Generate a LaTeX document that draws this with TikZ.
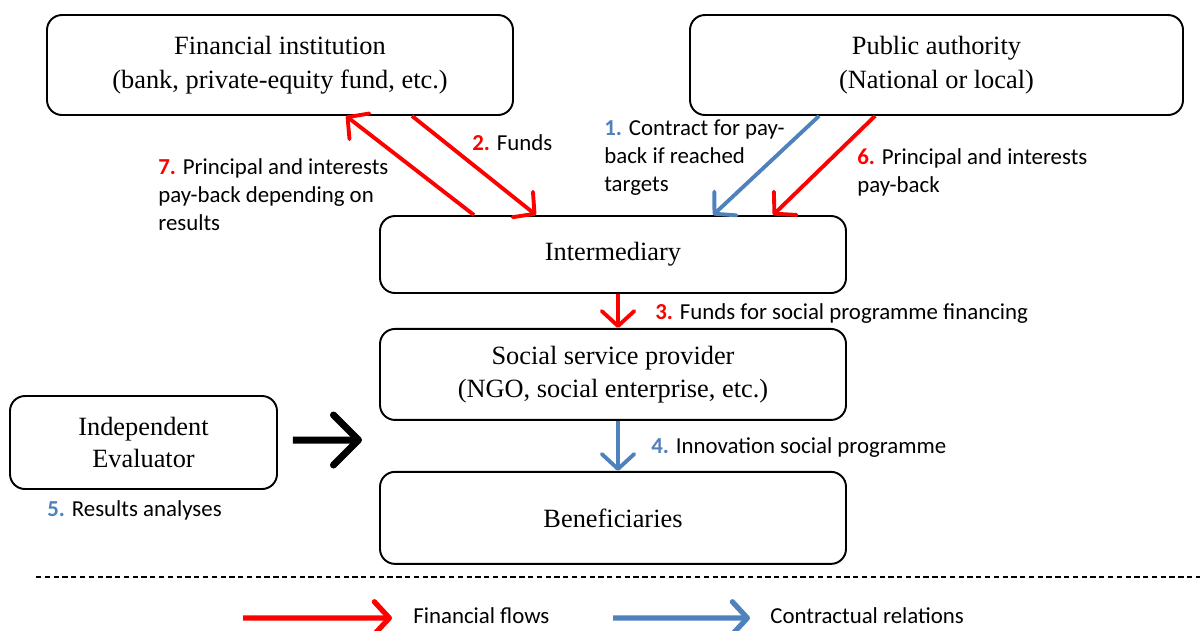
\documentclass[tikz,border=0pt]{standalone}
\usepackage{fontspec}
\setmainfont{Liberation Serif}
\newfontfamily\lblfont{Carlito}
\usepackage{xcolor}
\usetikzlibrary{arrows.meta,positioning}
\definecolor{flowred}{RGB}{255,0,0}
\definecolor{contractblue}{RGB}{79,129,189}
\newcommand{\stepnum}[2]{{\bfseries\color{#1}#2}}

\begin{document}
\begin{tikzpicture}[x=1cm,y=1cm,
  actor/.style={draw, rounded corners=0.3cm, line width=1.1pt, align=center, font=\fontsize{15}{19}\selectfont},
  lbl/.style={anchor=west, inner sep=0pt, align=left, font=\lblfont\fontsize{13}{16}\selectfont},
  redflow/.style={draw=flowred, line width=2.2pt, -{Straight Barb[length=3mm,width=6.5mm,round]}},
  blueflow/.style={draw=contractblue, line width=2.2pt, -{Straight Barb[length=3mm,width=6.5mm,round]}}]
        \useasboundingbox (0,0) rectangle (24,-12.6);
        \node[actor, minimum width=9.32cm, minimum height=2cm] (fin) at (5.6,-1.3) {Financial institution\\(bank, private-equity fund, etc.)};
        \node[actor, minimum width=9.86cm, minimum height=2cm] (pub) at (18.73,-1.3) {Public authority\\(National or local)};
        \node[actor, minimum width=9.32cm, minimum height=1.54cm] (inter) at (12.26,-5.09) {Intermediary};
        \node[actor, minimum width=9.32cm, minimum height=1.82cm, below=0.68cm of inter] (soc) {Social service provider\\(NGO, social enterprise, etc.)};
        \node[actor, minimum width=9.32cm, minimum height=1.84cm, below=1cm of soc] (ben) {Beneficiaries};
        \node[actor, minimum width=5.34cm, minimum height=1.86cm, font=\fontsize{15}{18}\selectfont] (eval) at (2.87,-8.85) {Independent\\Evaluator};

        \node[lbl] (lab7) at (3.16,-3.9) {\stepnum{flowred}{7.} Principal and interests\\pay-back depending on\\results};
        \node[lbl] (lab2) at (9.44,-2.86) {\stepnum{flowred}{2.} Funds};
        \node[lbl] (lab1) at (12.08,-3.16) {\stepnum{contractblue}{1.} Contract for pay-\\back if reached\\targets};
        \node[lbl] (lab6) at (17.14,-3.44) {\stepnum{flowred}{6.} Principal and interests\\pay-back};
        \node[lbl] (lab3) at (13.1,-6.28) {\stepnum{flowred}{3.} Funds for social programme financing};
        \node[lbl] (lab4) at (13.02,-8.96) {\stepnum{contractblue}{4.} Innovation social programme};
        \node[lbl] (lab5) at (0.94,-10.2) {\stepnum{contractblue}{5.} Results analyses};

        \draw [redflow] ([xshift=1.9cm]inter.north west) -- ([xshift=6cm]fin.south west);
        \draw [redflow] ([xshift=7.32cm]fin.south west) -- ([xshift=3.14cm]inter.north west);
        \draw [blueflow] ([xshift=2.6cm]pub.south west) -- ([xshift=6.68cm]inter.north west);
        \draw [redflow] ([xshift=3.72cm]pub.south west) -- ([xshift=7.88cm]inter.north west);
        \draw [redflow] ([xshift=0.1cm]inter.south) -- ([xshift=0.1cm]soc.north);
        \draw [blueflow] ([xshift=0.1cm]soc.south) -- ([xshift=0.1cm]ben.north);
        \coordinate (evaltip) at (7.24,-8.8);
        \draw [line width=4pt, -{Straight Barb[length=5mm,width=10mm,round]}] ([xshift=0.3cm,yshift=0.05cm]eval.east) -- (evaltip);

        \draw [dash pattern=on 3pt off 2pt, line width=0.7pt] (0.72,-11.54) -- (24,-11.54);

        \node[lbl] (legfin) at (8.26,-12.32) {Financial flows};
        \node[lbl] (legcon) at (15.4,-12.32) {Contractual relations};
        \coordinate (legfinstart) at (4.86,-12.36);
        \coordinate (legconstart) at (12.26,-12.36);
        \draw [redflow, line width=3pt] (legfinstart) -- ([xshift=-0.42cm,yshift=-0.04cm]legfin.west);
        \draw [blueflow, line width=3pt] (legconstart) -- ([xshift=-0.4cm,yshift=-0.04cm]legcon.west);
\end{tikzpicture}
\end{document}
